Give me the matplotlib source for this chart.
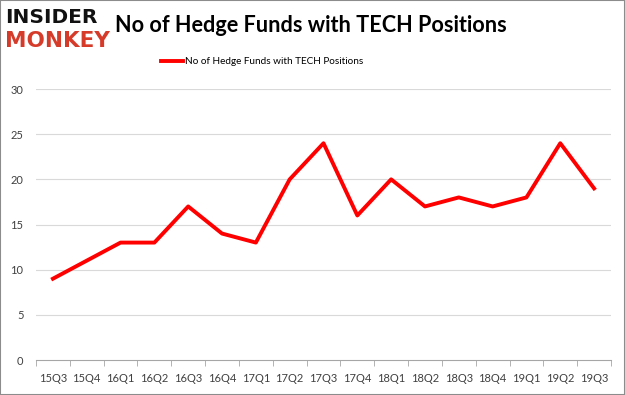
import matplotlib.pyplot as plt
from matplotlib.patches import Rectangle

quarters = ["15Q3", "15Q4", "16Q1", "16Q2", "16Q3", "16Q4", "17Q1", "17Q2", "17Q3",
            "17Q4", "18Q1", "18Q2", "18Q3", "18Q4", "19Q1", "19Q2", "19Q3"]
funds = [9, 11, 13, 13, 17, 14, 13, 20, 24, 16, 20, 17, 18, 17, 18, 24, 19]
yticks = [0, 5, 10, 15, 20, 25, 30]
label = "No of Hedge Funds with TECH Positions"

fig = plt.figure(figsize=(6.25, 3.95), dpi=100)
ax = fig.add_axes([0.0576, 0.0886, 0.92, 0.686])

for y in yticks[1:]:
    ax.axhline(y, color="#d9d9d9", lw=0.8, zorder=0)

x = list(range(len(quarters)))
ax.plot(x, funds, color="#ff0000", lw=2.8, label=label, zorder=3)

ax.set_xlim(-0.5, len(quarters) - 0.5)
ax.set_ylim(0, 30)
ax.set_yticks(yticks)
ax.set_xticks(x)
ax.set_xticklabels(quarters, fontsize=8, fontname="Lato", color="#404040")
ax.set_yticklabels(yticks, fontsize=8, fontname="Lato", color="#404040")
ax.set_xticks([i - 0.5 for i in range(len(quarters) + 1)], minor=True)
ax.tick_params(axis="x", which="major", length=0, pad=9)
ax.tick_params(axis="x", which="minor", length=4, color="#a6a6a6")
ax.tick_params(axis="y", length=0, pad=9)
for s in ["top", "right", "left"]:
    ax.spines[s].set_visible(False)
ax.spines["bottom"].set_color("#a6a6a6")

ax.legend(loc="lower center", bbox_to_anchor=(0.393, 1.05), frameon=False,
          prop={"family": "Lato", "size": 7.2}, handlelength=2.2, handletextpad=0.2)

fig.text(0.184, 0.935, "No of Hedge Funds with TECH Positions", fontsize=15.6,
         fontweight="bold", fontname="Lato", va="center", ha="left")
fig.text(0.008, 0.955, "INSIDER", fontsize=14.5, fontweight="black", color="#111111",
         va="center", ha="left")
fig.text(0.008, 0.897, "MONKEY", fontsize=15.5, fontweight="black", color="#d63b2a",
         va="center", ha="left")

fig.patches.append(Rectangle((0, 0), 1, 1, transform=fig.transFigure, fill=False,
                             edgecolor="#8c8c8c", lw=1.5))

fig.savefig("out.png", dpi=100)
